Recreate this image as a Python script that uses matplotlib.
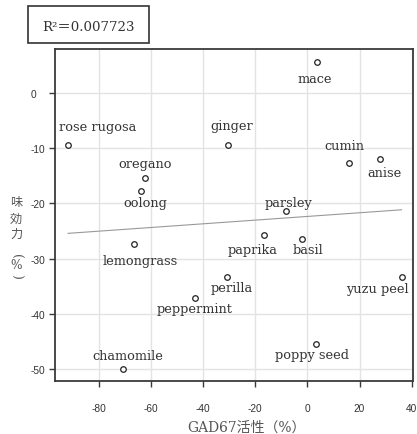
import numpy as np
import matplotlib
matplotlib.use("Agg")
import matplotlib.pyplot as plt
from matplotlib.patches import Rectangle

plt.rcParams["axes.unicode_minus"] = False

# ---- data ----
names = ["mace", "rose rugosa", "oregano", "oolong", "ginger", "cumin", "anise",
         "parsley", "paprika", "basil", "perilla", "yuzu peel", "poppy seed",
         "lemongrass", "peppermint", "chamomile"]
gad67 = [3.8, -91.7, -62.3, -63.6, -30.3, 16.0, 28.0, -8.2, -16.7, -2.1,
         -30.8, 36.1, 3.5, -66.6, -43.1, -70.7]
taste = [5.7, -9.3, -15.3, -17.7, -9.3, -12.7, -11.9, -21.3, -25.8, -26.5,
         -33.3, -33.4, -45.5, -27.4, -37.2, -50.1]
xticks = [-80, -60, -40, -20, 0, 20, 40]
yticks = [0, -10, -20, -30, -40, -50]
r2_text = "R²＝0.007723"
xlabel = "GAD67活性（%）"
ylabel_chars = ["味", "効", "力", "(", "%", ")"]

# ---- layout (label offsets in pixels: dx right, dy down) ----
label_offsets = {
    "mace": (-3, 16), "rose rugosa": (30, -18), "oregano": (0, -14),
    "oolong": (4, 12), "ginger": (3, -19), "cumin": (-5, -18),
    "anise": (4, 14), "parsley": (3, -8), "paprika": (-11, 14),
    "basil": (6, 10), "perilla": (5, 11), "yuzu peel": (-24, 11),
    "poppy seed": (-4, 11), "lemongrass": (7, 16), "peppermint": (0, 10),
    "chamomile": (5, -14),
}

W, H = 417, 435
fig = plt.figure(figsize=(W / 100, H / 100), dpi=100)
ax = fig.add_axes([54.5 / W, 1 - 382.3 / H, (413.3 - 54.5) / W, (382.3 - 49.8) / H])

serif = ["DejaVu Serif", "Noto Sans CJK JP"]
tc = "#333333"

x = np.array(gad67)
y = np.array(taste)
slope, intercept = np.polyfit(x, y, 1)
xs = np.array([x.min(), x.max()])
ax.plot(xs, slope * xs + intercept, color="#999999", lw=0.8, zorder=2)

ax.plot(x, y, "o", ms=4, mfc="white", mec="#222222", mew=0.9, zorder=3, ls="none")

for n, xi, yi in zip(names, gad67, taste):
    dx, dy = label_offsets[n]
    ax.annotate(n, (xi, yi), xytext=(dx * 0.72, -dy * 0.72), textcoords="offset points",
                ha="center", va="center", fontsize=9.3, family=serif, color=tc, zorder=4)

ax.set_xlim(-96.9, 40.6)
ax.set_ylim(-52.3, 8.1)
ax.set_xticks(xticks)
ax.set_yticks(yticks)
ax.grid(True, color="#e3e3e3", lw=1.0, zorder=0)
ax.set_axisbelow(True)
for s in ax.spines.values():
    s.set_color("#3a3a3a")
    s.set_linewidth(1.3)
ax.tick_params(axis="x", length=4, width=1, color="#3a3a3a", pad=11.5,
               labelsize=7.3, labelcolor=tc)
ax.tick_params(axis="y", length=4, width=1, color="#3a3a3a", pad=13.2,
               labelsize=7.3, labelcolor=tc)
for lab in ax.get_xticklabels() + ax.get_yticklabels():
    lab.set_family("Liberation Sans")
for lab in ax.get_yticklabels():
    lab.set_horizontalalignment("left")

# x label
fig.text(246 / W, 1 - 428 / H, xlabel, ha="center", va="center", fontsize=10,
         family=serif, color="#555555")
# y label (vertical stacked)
ypos = [203, 219, 234, 256, 266, 276]
rots = [0, 0, 0, -90, 0, -90]
fams = [["Noto Sans CJK JP"]] * 3 + [["DejaVu Serif"]] * 3
for ch, yp, r, fm in zip(ylabel_chars, ypos, rots, fams):
    fig.text(16 / W, 1 - yp / H, ch, ha="center", va="center", fontsize=8.8,
             rotation=r, family=fm, color="#555555")

# R2 box
fig.patches.append(Rectangle((28 / W, 1 - 43.5 / H), (149.3 - 28) / W, (43.5 - 7.3) / H,
                             transform=fig.transFigure, fill=False, ec="#333333", lw=1.2))
fig.text(88.5 / W, 1 - 27.5 / H, r2_text, ha="center", va="center", fontsize=9.6,
         family=serif, color=tc)

fig.savefig("out.png", dpi=100)
